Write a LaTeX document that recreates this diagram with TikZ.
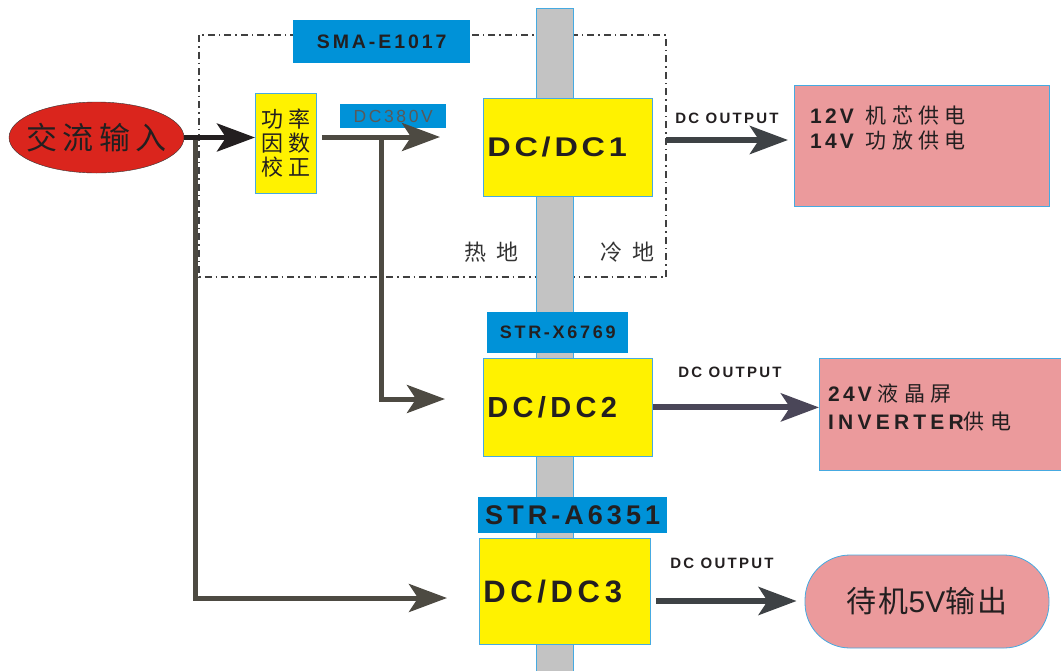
\documentclass[tikz,border=0pt]{standalone}
\usepackage{fontspec}
\setmainfont{Liberation Sans}
\newfontfamily\wide[LetterSpace=15]{Liberation Sans}
\newfontfamily\stretched[FakeStretch=1.2,LetterSpace=14]{Liberation Sans}
\newfontfamily\cjk[LetterSpace=25]{Noto Sans CJK SC}
\newfontfamily\cjkair[LetterSpace=45]{Noto Sans CJK SC}
\newfontfamily\cjktight[LetterSpace=8]{Noto Sans CJK SC}
\usetikzlibrary{shapes.geometric, arrows.meta, positioning}
\definecolor{chipblue}{RGB}{0, 146, 216}
\definecolor{boxyellow}{RGB}{255, 242, 0}
\definecolor{loadpink}{RGB}{235, 154, 156}
\definecolor{inred}{RGB}{218, 37, 29}
\definecolor{bargrey}{RGB}{195, 195, 195}
\definecolor{edgeblue}{RGB}{70, 170, 225}
\definecolor{wiregrey}{RGB}{77, 74, 66}
\definecolor{slategrey}{RGB}{62, 66, 69}
\definecolor{violetgrey}{RGB}{74, 70, 88}
\definecolor{inkgrey}{RGB}{35, 31, 32}

\begin{document}
\begin{tikzpicture}[x=1pt, y=-1pt,
    chip/.style={fill=chipblue, inner sep=0pt, anchor=north west, text=inkgrey},
    dcbox/.style={draw=edgeblue, fill=boxyellow, line width=0.8pt, inner xsep=4pt, text width=161pt, minimum height=98pt, align=left, anchor=north west, text=inkgrey},
    loadbox/.style={draw=edgeblue, fill=loadpink, line width=0.8pt, anchor=north west},
    outlabel/.style={font={\wide\bfseries\fontsize{15}{18}\selectfont}, text=inkgrey},
    wire/.style={draw=wiregrey, line width=5pt, -{Stealth[length=38pt, width=28pt, inset=9pt]}},
    outwire/.style={wire, line width=6pt}]
    \useasboundingbox (0,0) rectangle (1061,670);

    % hot / cold side
    \draw[black!75, line width=1.5pt, dash pattern=on 7pt off 4pt on 1.5pt off 4pt] (199,35) rectangle (666,277);
    \filldraw[fill=bargrey, draw=edgeblue, line width=0.6pt] (536,8) rectangle (573,672);
    \node[anchor=west, font={\cjkair\fontsize{22}{22}\selectfont}, text=black!80] (hot) at (461,252) {热地};
    \node[anchor=west, font={\cjkair\fontsize{22}{22}\selectfont}, text=black!80] (cold) at (597,252) {冷地};

    \node[chip, minimum width=177pt, minimum height=43pt, font={\wide\bfseries\fontsize{19.5}{22}\selectfont}] (sma) at (293,20) {SMA-E1017};
    \node[chip, minimum width=106pt, minimum height=24pt, font={\wide\fontsize{17.5}{20}\selectfont}, text=black!65] (hv) at (340,104) {DC380V};
    \node[chip, minimum width=141pt, minimum height=41pt, font={\wide\bfseries\fontsize{18}{21}\selectfont}] (strx) at (487,312) {STR-X6769};
    \node[chip, minimum width=189pt, minimum height=36pt, font={\wide\bfseries\fontsize{27}{30}\selectfont}] (stra) at (478,497) {STR-A6351};

    \node[ellipse, draw=black!80, fill=inred, minimum width=175pt, minimum height=71pt, inner sep=0pt, font={\cjk\addfontfeature{LetterSpace=18}\fontsize{31}{31}\selectfont}, text=inkgrey] (acin) at (96.5,137.5) {\makebox[0pt]{交流输入}};
    \node[draw=edgeblue, fill=boxyellow, line width=0.8pt, minimum width=61pt, minimum height=100pt, inner sep=0pt, anchor=north west, align=center, font={\cjk\fontsize{22}{24}\selectfont}, text=inkgrey] (pfc) at (255,93) {功率\\因数\\校正};

    \node[dcbox, font={\stretched\bfseries\fontsize{27}{30}\selectfont}] (dc1) at (483,98) {DC/DC1};
    \node[dcbox, font={\wide\bfseries\fontsize{29}{34}\selectfont}] (dc2) at (483,358) {DC/DC2};
    \node[dcbox, minimum height=106pt, text width=163pt, font={\wide\bfseries\fontsize{31}{36}\selectfont}] (dc3) at (479,538) {DC/DC3};

    % loads
    \node[loadbox, minimum width=255pt, minimum height=121pt] (load1) at (794,85) {};
    \node[anchor=north west, inner sep=0pt, align=left, font={\fontsize{21}{25}\selectfont}, text=inkgrey] (load1txt) at ([shift={(16,21)}]load1.north west)
      {{\wide\bfseries 12V}\hspace{12pt}{\cjk 机芯供电}\\{\wide\bfseries 14V}\hspace{12pt}{\cjk 功放供电}};
    \node[loadbox, minimum width=250pt, minimum height=112pt] (load2) at (819,358) {};
    \node[anchor=north west, inner sep=0pt, align=left, font={\fontsize{21}{28}\selectfont}, text=inkgrey] (load2txt) at ([shift={(9,26)}]load2.north west)
      {{\wide\bfseries 24V}\hspace{6pt}{\cjk 液晶屏}\\{\wide\bfseries\addfontfeature{LetterSpace=20}INVERTER}{\cjk 供电}};
    \node[draw=edgeblue, fill=loadpink, line width=0.8pt, rounded corners=45pt, minimum width=244pt, minimum height=93pt, font={\fontsize{30}{34}\selectfont}, text=inkgrey] (stby) at (927,601.5)
      {{\cjktight 待机}5V{\cjktight 输出}};

    \node[outlabel] (out1lbl) at (727,118) {DC OUTPUT};
    \node[outlabel] (out2lbl) at (730,372) {DC OUTPUT};
    \node[outlabel] (out3lbl) at (722,563) {DC OUTPUT};

    % wiring
    \coordinate (tap1) at (195,138);
    \coordinate (dc3in) at (447,598);
    \coordinate (tap2) at (381,137);
    \coordinate (dc2in) at (445,399);
    \coordinate (dc1in) at (440,137);
    \coordinate (out1) at (666,140);
    \coordinate (out3) at (656,601);
    \draw[wire] (tap1) |- (dc3in);
    \draw[wire] (tap2) |- (dc2in);
    \draw[wire, draw=inkgrey] (acin.east) -- (acin.east -| pfc.west);
    \draw[wire] ([xshift=5pt]pfc.east |- dc1in) -- (dc1in);
    \draw[outwire, draw=slategrey] (out1) -- ([xshift=-6pt]load1.west |- out1);
    \draw[outwire, draw=violetgrey] (dc2.east) -- (dc2.east -| load2.west);
    \draw[outwire, draw=slategrey] (out3) -- ([xshift=-8pt]stby.west |- out3);
\end{tikzpicture}
\end{document}
